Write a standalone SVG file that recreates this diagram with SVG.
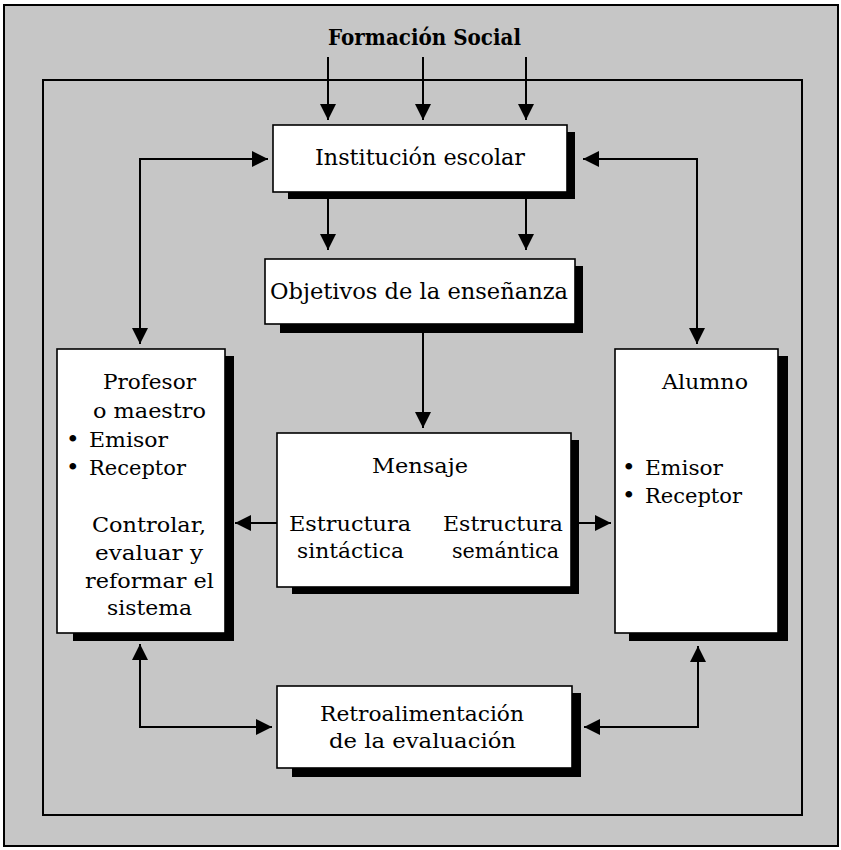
<svg xmlns="http://www.w3.org/2000/svg" width="841" height="850" viewBox="0 0 841 850" font-family="DejaVu Serif, Liberation Serif, serif">
<style>
text{font-size:21px;fill:#000}
.big{font-size:22px}
.b{font-weight:bold}
.bul{font-size:23px}
.box{fill:#fff;stroke:#000;stroke-width:1.6}
.sh{fill:#000}
.c{fill:none;stroke:#000;stroke-width:2}
</style>
<defs>
<marker id="ah" markerUnits="userSpaceOnUse" markerWidth="16" markerHeight="16" viewBox="0 0 16 16" refX="16" refY="8" orient="auto-start-reverse">
<path d="M0,0 L16,8 L0,16 z" fill="#000"/>
</marker>
</defs>
<rect x="0" y="0" width="841" height="850" fill="#fff"/>
<rect x="4" y="5" width="834" height="841" fill="#c6c6c6" stroke="#000" stroke-width="2"/>
<rect x="43" y="80" width="759" height="735" fill="none" stroke="#000" stroke-width="2"/>
<g id="connectors">
<path class="c" d="M328,57 V120" marker-end="url(#ah)"/>
<path class="c" d="M423,57 V120" marker-end="url(#ah)"/>
<path class="c" d="M526,57 V120" marker-end="url(#ah)"/>
<path class="c" d="M328,199 V250" marker-end="url(#ah)"/>
<path class="c" d="M526,199 V250" marker-end="url(#ah)"/>
<path class="c" d="M423,333 V428" marker-end="url(#ah)"/>
<path class="c" d="M268,159 H140 V344" marker-start="url(#ah)" marker-end="url(#ah)"/>
<path class="c" d="M583,159 H697 V344" marker-start="url(#ah)" marker-end="url(#ah)"/>
<path class="c" d="M277,523 H235" marker-end="url(#ah)"/>
<path class="c" d="M579,523 H611" marker-end="url(#ah)"/>
<path class="c" d="M140,644 V727 H272" marker-start="url(#ah)" marker-end="url(#ah)"/>
<path class="c" d="M698,646 V727 H584" marker-start="url(#ah)" marker-end="url(#ah)"/>
</g>
<g id="formacion">
<text class="big b" x="328" y="45" textLength="193" lengthAdjust="spacingAndGlyphs">Formación Social</text>
</g>
<g id="institucion">
<rect class="sh" x="288" y="132" width="287" height="67"/>
<rect class="box" x="273" y="125" width="294" height="67"/>
<text class="big" x="315" y="165" textLength="210" lengthAdjust="spacingAndGlyphs">Institución escolar</text>
</g>
<g id="objetivos">
<rect class="sh" x="280" y="266" width="303" height="67"/>
<rect class="box" x="265" y="259" width="310" height="65"/>
<text class="big" x="270" y="299" textLength="298" lengthAdjust="spacingAndGlyphs">Objetivos de la enseñanza</text>
</g>
<g id="profesor">
<rect class="sh" x="73" y="356" width="161" height="285"/>
<rect class="box" x="57" y="349" width="168" height="284"/>
<text x="103" y="389" textLength="93" lengthAdjust="spacingAndGlyphs">Profesor</text>
<text x="93" y="418" textLength="113" lengthAdjust="spacingAndGlyphs">o maestro</text>
<text x="66" y="447"><tspan class="bul">•</tspan><tspan x="89" textLength="79" lengthAdjust="spacingAndGlyphs">Emisor</tspan></text>
<text x="66" y="475"><tspan class="bul">•</tspan><tspan x="89" textLength="97" lengthAdjust="spacingAndGlyphs">Receptor</tspan></text>
<text x="92" y="532" textLength="114" lengthAdjust="spacingAndGlyphs">Controlar,</text>
<text x="95" y="560" textLength="108" lengthAdjust="spacingAndGlyphs">evaluar y</text>
<text x="85" y="588" textLength="129" lengthAdjust="spacingAndGlyphs">reformar el</text>
<text x="107" y="615" textLength="85" lengthAdjust="spacingAndGlyphs">sistema</text>
</g>
<g id="alumno">
<rect class="sh" x="629" y="356" width="159" height="285"/>
<rect class="box" x="615" y="349" width="163" height="284"/>
<text x="662" y="389" textLength="86" lengthAdjust="spacingAndGlyphs">Alumno</text>
<text x="622" y="475"><tspan class="bul">•</tspan><tspan x="645" textLength="78" lengthAdjust="spacingAndGlyphs">Emisor</tspan></text>
<text x="622" y="503"><tspan class="bul">•</tspan><tspan x="645" textLength="97" lengthAdjust="spacingAndGlyphs">Receptor</tspan></text>
</g>
<g id="mensaje">
<rect class="sh" x="292" y="440" width="287" height="154"/>
<rect class="box" x="277" y="433" width="294" height="154"/>
<text x="372" y="473" textLength="96" lengthAdjust="spacingAndGlyphs">Mensaje</text>
<text x="289" y="531" textLength="122" lengthAdjust="spacingAndGlyphs">Estructura</text>
<text x="297" y="558" textLength="107" lengthAdjust="spacingAndGlyphs">sintáctica</text>
<text x="443" y="531" textLength="120" lengthAdjust="spacingAndGlyphs">Estructura</text>
<text x="452" y="558" textLength="107" lengthAdjust="spacingAndGlyphs">semántica</text>
</g>
<g id="retroalimentacion">
<rect class="sh" x="292" y="693" width="289" height="84"/>
<rect class="box" x="277" y="686" width="295" height="82"/>
<text x="320" y="721" textLength="204" lengthAdjust="spacingAndGlyphs">Retroalimentación</text>
<text x="329" y="748" textLength="187" lengthAdjust="spacingAndGlyphs">de la evaluación</text>
</g>
</svg>
